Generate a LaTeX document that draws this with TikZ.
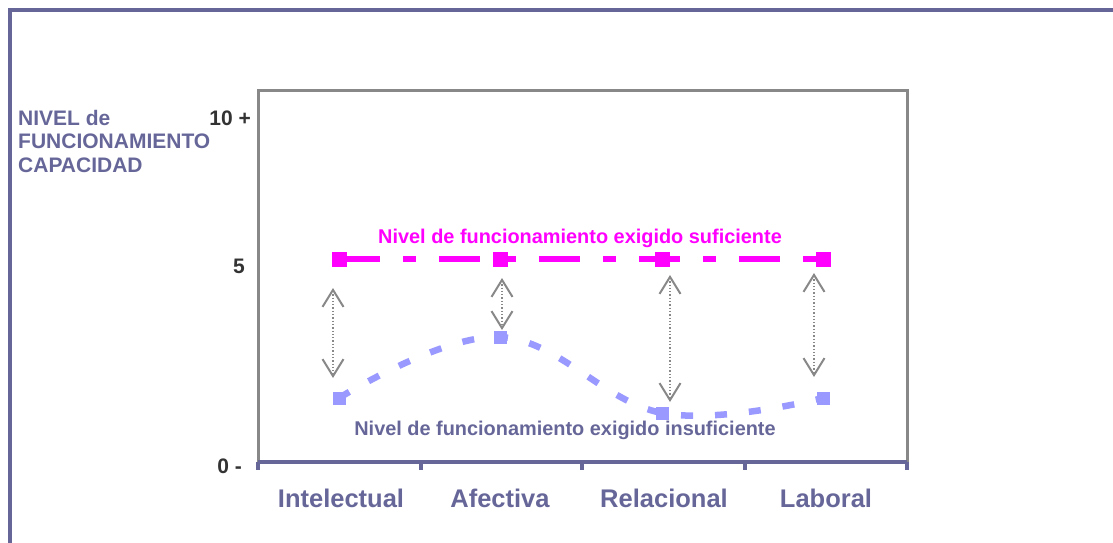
\documentclass[tikz,border=0pt]{standalone}
\usepackage{fontspec}
\setmainfont{Liberation Sans}
\usetikzlibrary{arrows.meta}
\definecolor{framec}{HTML}{666699}
\definecolor{magc}{HTML}{FF00FF}
\definecolor{litec}{HTML}{9999FF}
\definecolor{boxgray}{HTML}{888888}
\definecolor{numc}{HTML}{333333}
\tikzset{
  lbl/.style={inner sep=0pt, anchor=base, font=\bfseries},
  magmark/.style={fill=magc, draw=none, minimum size=15pt, inner sep=0pt},
  litemark/.style={fill=litec, draw=none, minimum size=13pt, inner sep=0pt},
  gaparrow/.style={draw=boxgray, line width=1.3pt, dotted,
    {Straight Barb[length=17pt,width=21pt,line width=2pt]}-{Straight Barb[length=17pt,width=21pt,line width=2pt]}},
}
\begin{document}
\begin{tikzpicture}[x=1pt,y=-1pt]
\useasboundingbox (0,0) rectangle (1113,543);
% outer frame
\draw[framec, line width=4pt] (10,543) -- (10,10) -- (1113,10);
% chart box
\draw[boxgray, line width=3pt] (258,462) -- (258,90) -- (907,90) -- (907,462);
\draw[framec, line width=4pt] (258,462) -- (907,462);
\foreach \x in {258,421,582,745,907}
  \draw[framec, line width=3.5pt] (\x,462) -- (\x,470);
% y axis labels
\node[lbl, text=framec, anchor=base west, font=\bfseries\fontsize{21}{23.5}\selectfont, align=left] (ylab) at (18,172)
  {NIVEL de\\FUNCIONAMIENTO\\CAPACIDAD};
\node[lbl, text=numc, anchor=base east, font=\bfseries\fontsize{21}{24}\selectfont] (y10) at (251,125) {10 +};
\node[lbl, text=numc, anchor=base east, font=\bfseries\fontsize{21}{24}\selectfont] (y5) at (245,273) {5};
\node[lbl, text=numc, anchor=base east, font=\bfseries\fontsize{21}{24}\selectfont] (y0) at (242,473) {0 -};
% categories
\foreach \x/\t/\n in {341/Intelectual/c1, 500/Afectiva/c2, 664/Relacional/c3, 826/Laboral/c4}
  \node[lbl, text=framec, font=\bfseries\fontsize{25.5}{28}\selectfont] (\n) at (\x,507) {\t};
% sufficient level
\coordinate (m1) at (339,259);
\coordinate (m2) at (500,259);
\coordinate (m3) at (662,259);
\coordinate (m4) at (823,259);
\draw[magc, line width=5.5pt, dash pattern=on 41pt off 23pt on 13pt off 23pt] (m1) -- (m4);
\foreach \m in {m1,m2,m3,m4} \node[magmark] (\m s) at (\m) {};
\node[lbl, text=magc, font=\bfseries\fontsize{19.9}{22}\selectfont] (suf) at (580,243) {Nivel de funcionamiento exigido suficiente};
% insufficient level
\coordinate (l1) at (339,398);
\coordinate (l2) at (500,337);
\coordinate (l3) at (662,413);
\coordinate (l4) at (823,398);
\draw[litec, line width=6.5pt, dash pattern=on 12pt off 22pt] plot[smooth, tension=0.65] coordinates {(l1) (l2) (l3) (l4)};
\foreach \l in {l1,l2,l3,l4} \node[litemark] (\l s) at (\l) {};
\node[lbl, text=framec, font=\bfseries\fontsize{19.9}{22}\selectfont] (ins) at (565,435) {Nivel de funcionamiento exigido insuficiente};
% gap arrows
\coordinate (a1t) at (333,288); \coordinate (a1b) at (333,378);
\coordinate (a2t) at (502,278); \coordinate (a2b) at (502,330);
\coordinate (a3t) at (670,275); \coordinate (a3b) at (670,402);
\coordinate (a4t) at (814,273); \coordinate (a4b) at (814,377);
\draw[gaparrow] (a1t) -- (a1b);
\draw[gaparrow] (a2t) -- (a2b);
\draw[gaparrow] (a3t) -- (a3b);
\draw[gaparrow] (a4t) -- (a4b);
\end{tikzpicture}
\end{document}
